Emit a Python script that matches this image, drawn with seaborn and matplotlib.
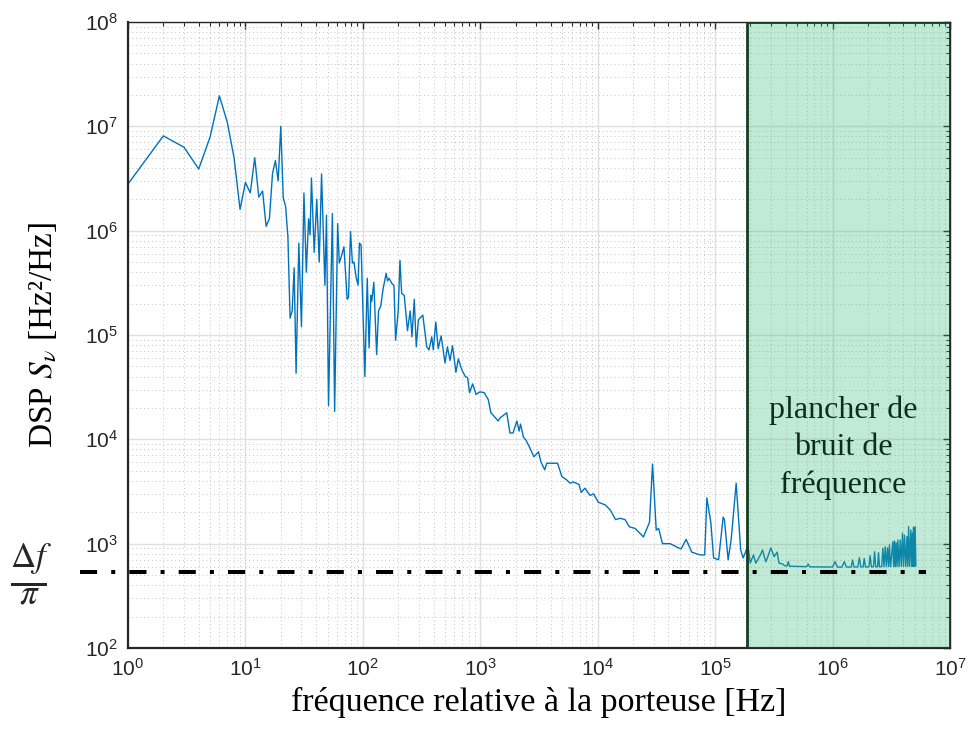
import numpy as np
import pandas as pd
import seaborn as sns
import matplotlib
matplotlib.use('Agg')
import matplotlib.pyplot as plt
from matplotlib.ticker import LogLocator, NullFormatter

# --- values (frequency in Hz, DSP in Hz^2/Hz) ---
# low frequencies, 1 Hz - 200 Hz
freq_low = [1.0, 2.0, 3.0, 4.0, 5.0, 6.0, 7.0, 8.0, 9.0, 10, 11, 12, 13, 14, 15, 16, 17, 18, 19, 20,
            21, 22, 23, 24, 25, 26, 27, 28.5, 30, 31.5, 33, 34.5, 35.5, 36.5, 38.5, 40.5, 42.5, 44.5,
            47.5, 49, 51, 55, 57.5, 61, 63, 64.5, 69, 73.5, 75.5, 78.5, 81.5, 84, 87.5, 91, 93.5, 96.5,
            104, 109, 113, 117, 119, 124, 131, 136, 142, 149, 158, 162, 167, 177, 184, 190, 200]
dsp_low = [2.8e6, 8.1e6, 6.3e6, 3.9e6, 7.9e6, 1.96e7, 1.1e7, 5.0e6, 1.6e6, 2.9e6, 2.3e6, 5.0e6, 2.1e6,
           2.4e6, 1.1e6, 1.3e6, 3.5e6, 4.7e6, 3.0e6, 1.0e7, 2.05e6, 1.7e6, 8.7e5, 1.45e5, 1.7e5, 4.4e5,
           4.3e4, 7.6e5, 1.2e5, 2.3e6, 4.0e5, 1.3e6, 9.1e5, 3.2e6, 6.2e5, 2.0e6, 5.0e5, 3.5e6, 3.0e5,
           1.4e6, 2.1e4, 1.46e6, 1.85e4, 1.17e6, 4.9e5, 5.3e5, 7.0e5, 2.2e5, 2.3e5, 9.8e5, 4.9e5, 5.0e5,
           3.6e5, 3.0e5, 7.6e5, 7.3e5, 4.0e4, 3.5e5, 7.5e4, 2.4e5, 2.1e5, 3.2e5, 6.5e4, 1.7e5, 1.9e5,
           2.8e5, 3.9e5, 3.3e5, 3.5e5, 3.1e5, 3.0e5, 8.9e4, 1.7e5]

# mid frequencies, 200 Hz - 25 kHz
freq_mid = [207, 214, 225, 240, 253, 262, 274, 285, 297, 324, 350, 366, 386, 398, 418, 438, 464, 501,
            525, 552, 580, 620, 650, 698, 745, 780, 810, 860, 920, 995, 1080, 1170, 1230, 1290, 1420,
            1470, 1680, 1790, 1900, 2050, 2140, 2200, 2330, 2450, 2640, 2860, 3130, 3280, 3540, 3680,
            4090, 4550, 4950, 5420, 5820, 6200, 6920, 7240, 7770, 8620, 9220, 10100, 11600, 12800,
            14200, 15500, 17100, 18600, 20800, 22700, 24500]
dsp_mid = [5.2e5, 2.5e5, 2.4e5, 1.1e5, 1.7e5, 9.6e4, 2.2e5, 7.7e4, 1.4e5, 1.55e5, 7.7e4, 7.2e4, 9.6e4,
           7.2e4, 1.33e5, 7.4e4, 9.8e4, 5.4e4, 7.7e4, 5.7e4, 7.9e4, 4.4e4, 5.9e4, 4.6e4, 4.0e4, 3.9e4,
           2.8e4, 3.4e4, 2.7e4, 2.85e4, 2.8e4, 2.4e4, 1.8e4, 1.7e4, 1.5e4, 1.6e4, 1.8e4, 1.15e4, 1.15e4,
           1.5e4, 1.2e4, 1.4e4, 1.05e4, 9.8e3, 8.3e3, 6.8e3, 7.6e3, 6.1e3, 5.1e3, 5.9e3, 5.9e3, 5.9e3,
           4.4e3, 4.1e3, 3.8e3, 3.9e3, 3.7e3, 3.1e3, 3.4e3, 2.9e3, 3.0e3, 2.5e3, 2.35e3, 2.1e3, 1.7e3,
           1.75e3, 1.7e3, 1.45e3, 1.4e3, 1.27e3, 1.16e3]

# 25 kHz - 380 kHz
freq_high = [27600, 29300, 31500, 33000, 35600, 41400, 47000, 51400, 56600, 63200, 74300, 81500, 85000,
             92000, 97000, 107000, 117000, 120000, 129000, 137000, 151000, 165000, 173000, 180000,
             190000, 199000, 212000, 222000, 243000, 253000, 270000, 281000, 298000, 318000, 337000,
             350000, 375000]
dsp_high = [1.6e3, 5.8e3, 1.35e3, 1.4e3, 1.0e3, 1.0e3, 930, 890, 1100, 830, 780, 780, 2750, 1580, 730,
            700, 1800, 1700, 700, 1100, 3800, 870, 730, 810, 970, 650, 780, 650, 780, 870, 670, 750, 910,
            750, 830, 650, 640]

# noise floor above 380 kHz and the narrow spurs on top of it
floor_f = [3.9e5, 4.1e5, 4.3e5, 5.0e5, 6.0e5, 6.4e5, 7.5e5, 8.8e5, 1.0e6, 1.1e6, 1.2e6, 1.31e6, 1.44e6,
           1.52e6, 1.64e6, 1.74e6, 1.82e6, 1.91e6, 2.04e6, 2.14e6, 2.23e6, 2.33e6, 2.42e6, 2.51e6,
           2.62e6, 2.74e6, 2.87e6, 3.0e6, 3.12e6, 3.31e6, 3.42e6, 3.54e6, 3.68e6, 3.85e6, 4.02e6,
           4.2e6, 4.37e6, 4.53e6, 4.72e6, 4.85e6, 4.97e6, 5.12e6]
floor_v = [615, 612, 608, 605, 602, 600, 598, 597, 598, 597, 596, 598, 597, 598, 597, 598, 599, 598,
           600, 599, 600, 601, 600, 601, 602, 601, 602, 603, 602, 603, 604, 603, 604, 605, 604, 605,
           606, 605, 606, 606, 607, 607]
spur_f = [4.2e5, 6.2e5, 1.05e6, 1.26e6, 1.48e6, 1.69e6, 1.86e6, 2.09e6, 2.28e6, 2.46e6, 2.68e6, 2.81e6,
          2.94e6, 3.05e6, 3.26e6, 3.37e6, 3.48e6, 3.6e6, 3.77e6, 3.94e6, 4.1e6, 4.3e6, 4.44e6, 4.64e6,
          4.8e6, 4.89e6, 5.05e6]
spur_v = [672, 638, 672, 672, 698, 734, 720, 767, 838, 820, 903, 935, 910, 972, 1045, 1060, 1020, 1085,
          1085, 1260, 1210, 1167, 1456, 1352, 1260, 1440, 1456]

floor_level = 535        # Delta f / pi
floor_start = 1.87e5     # start of the shaded "plancher" band

df = pd.DataFrame({
    'freq': freq_low + freq_mid + freq_high + floor_f + spur_f,
    'dsp': dsp_low + dsp_mid + dsp_high + floor_v + spur_v,
}).sort_values('freq')

sns.set_theme(style='white')
plt.rcParams['font.family'] = ['Liberation Sans', 'DejaVu Sans']
plt.rcParams['mathtext.fontset'] = 'stix'

fig = plt.figure(figsize=(9.69, 7.4), dpi=100)
ax = fig.add_axes([128 / 969, 1 - 648 / 740, 822 / 969, 626 / 740])
ax.set_xscale('log')
ax.set_yscale('log')

sns.lineplot(data=df, x='freq', y='dsp', ax=ax, color='#0072BD', lw=1.0,
             estimator=None, sort=True, zorder=2)

# shaded noise floor band
ax.axvspan(floor_start, 1e7, facecolor=(0.2, 0.73, 0.47, 0.3), edgecolor='#143d22',
           lw=2, zorder=3)
ax.text(1.23e6, 8.3e3, 'plancher de\nbruit de\nfréquence', family='Liberation Serif',
        fontsize=23, color='#0b2e1c', ha='center', va='center', linespacing=1.35, zorder=6)

# Delta f / pi level, drawn past the left axis
ax.plot([0.39, 6.2e6], [floor_level, floor_level], color='black', lw=2.9,
        ls=(0, (4.25, 3.5, 1, 3.5)), clip_on=False, zorder=5)
fig.text(31 / 969, 1 - 574 / 740, r'$\frac{\Delta f}{\pi}$', fontsize=36,
         ha='center', va='center')

ax.set_xlim(1, 1e7)
ax.set_ylim(1e2, 1e8)

for axis in (ax.xaxis, ax.yaxis):
    axis.set_major_locator(LogLocator(base=10, numticks=20))
    axis.set_minor_locator(LogLocator(base=10, subs=np.arange(2, 10) * 1.0, numticks=100))
    axis.set_minor_formatter(NullFormatter())

ax.grid(True, which='major', color='#e0e0e0', lw=1.0)
ax.grid(True, which='minor', color='#c4c4c4', ls=(0, (1, 3)), lw=0.7)
ax.set_axisbelow(True)

ax.tick_params(which='both', direction='in', top=True, right=True, labelsize=15,
               colors='#262626', labelcolor='#262626')
ax.tick_params(which='major', length=5, width=1, pad=7)
ax.tick_params(which='minor', length=3, width=0.8)
for s in ax.spines.values():
    s.set_color('#262626')
    s.set_linewidth(1.0)
ax.spines['left'].set_linewidth(1.6)
ax.spines['bottom'].set_linewidth(1.6)

ax.set_xlabel('fréquence relative à la porteuse [Hz]', family='Liberation Serif',
              fontsize=24.5, labelpad=5, color='black')
ax.set_ylabel(r'DSP $S_\nu$ [Hz²/Hz]', family='Liberation Serif', fontsize=24,
              labelpad=19, color='black')

fig.savefig('out.png', dpi=100)
